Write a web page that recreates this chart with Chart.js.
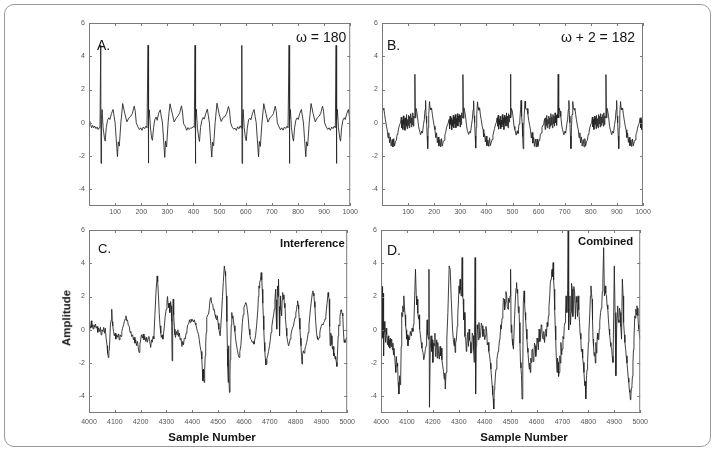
<!DOCTYPE html>
<html><head><meta charset="utf-8">
<script src="https://cdn.jsdelivr.net/npm/chart.js@4.4.1/dist/chart.umd.min.js"></script>
<style>
html,body{margin:0;padding:0;background:#fff;}
#wrap{position:relative;width:717px;height:452px;overflow:hidden;font-family:"Liberation Sans",Arial,sans-serif;}
#frame{position:absolute;left:4px;top:4px;width:707px;height:443px;border:1px solid #9a9a9a;border-radius:10px;box-sizing:border-box;}
canvas{position:absolute;}
.t{position:absolute;white-space:nowrap;line-height:1;color:#151515;}
.b{font-weight:bold;font-size:11.3px;}
</style></head><body><div id="wrap">
<div id="frame"></div>
<canvas id="cA"></canvas><canvas id="cB"></canvas><canvas id="cC"></canvas><canvas id="cD"></canvas>
<div class="t" style="left:97px;top:38px;font-size:14px">A.</div>
<div class="t" style="left:296px;top:30px;font-size:14px">ω = 180</div>
<div class="t" style="left:387px;top:38px;font-size:14px">B.</div>
<div class="t" style="left:561px;top:30px;font-size:14px">ω + 2 = 182</div>
<div class="t" style="left:98px;top:242px;font-size:13px">C.</div>
<div class="t b" style="left:280px;top:237.5px">Interference</div>
<div class="t" style="left:387px;top:243px;font-size:14px">D.</div>
<div class="t b" style="left:578px;top:235.5px">Combined</div>
<div class="t" style="left:67px;top:318px;font-size:11.5px;font-weight:bold;transform:translate(-50%,-50%) rotate(-90deg)">Amplitude</div>
<div class="t" style="left:212px;top:432px;font-size:11.5px;font-weight:bold;transform:translateX(-50%)">Sample Number</div>
<div class="t" style="left:524px;top:432px;font-size:11.5px;font-weight:bold;transform:translateX(-50%)">Sample Number</div>
</div>
<script>
// ---------- tick values ----------
const yTickVals = [-4, -2, 0, 2, 4, 6];
const xTicksTop = [100, 200, 300, 400, 500, 600, 700, 800, 900, 1000];
const xTicksBottom = [4000, 4100, 4200, 4300, 4400, 4500, 4600, 4700, 4800, 4900, 5000];

// ---------- panel A (omega = 180) ----------
const aX = [
0,3,6,10,14,18,22,27,31,35,39,42,
45,46,48,50,54,59,62,66,71,76,80,86,92,96,100,104,109,112,116,122,129,137,145,153,160,166,173,177,181,187,193,198,203,208,213,218,222,
226,227,229,231,235,240,243,247,252,257,261,267,273,277,281,285,290,293,297,303,310,318,326,334,341,347,354,358,362,368,374,379,384,389,394,399,403,
406,407,409,411,415,420,423,427,432,437,441,447,453,457,461,465,470,473,477,483,490,498,506,514,521,527,534,538,542,548,554,559,564,569,574,579,583,
585,586,588,590,594,599,602,606,611,616,620,626,632,636,640,644,649,652,656,662,669,677,685,693,700,706,713,717,721,727,733,738,743,748,753,758,762,
766,767,769,771,775,780,783,787,792,797,801,807,813,817,821,825,830,833,837,843,850,858,866,874,881,887,894,898,902,908,914,919,924,929,934,939,943,
946,947,949,951,955,960,963,967,972,977,981,987,993,997,1000];
const aY = [
0.05,0.1,-0.1,-0.3,-0.15,-0.3,-0.2,-0.35,-0.25,-0.4,-0.3,-0.25,
4.66,-2.44,0.2,0.8,-0.3,-0.9,-1.1,-0.3,0.16,0.3,0.2,0.56,0.8,0.4,0,-0.94,-2.04,-1.14,-1.4,0,1.16,0.56,0.06,0.3,0.4,0.56,1.0,0.7,0,-0.24,-0.4,-0.3,-0.45,-0.25,-0.35,-0.2,-0.3,
4.66,-2.42,0.25,0.78,-0.25,-0.95,-1.05,-0.3,0.2,0.35,0.15,0.6,0.78,0.35,0.05,-0.9,-2.08,-1.1,-1.45,0.05,1.14,0.6,0.05,0.28,0.42,0.6,1.02,0.65,-0.05,-0.2,-0.45,-0.28,-0.4,-0.3,-0.32,-0.22,-0.28,
4.66,-2.44,0.18,0.82,-0.32,-0.88,-1.12,-0.28,0.14,0.32,0.22,0.55,0.82,0.42,-0.02,-0.96,-2.06,-1.16,-1.38,0.02,1.18,0.54,0.08,0.32,0.38,0.58,0.98,0.72,0.02,-0.26,-0.38,-0.32,-0.46,-0.24,-0.36,-0.18,-0.32,
4.66,-2.44,0.22,0.8,-0.28,-0.92,-1.08,-0.32,0.18,0.28,0.18,0.58,0.8,0.38,0.02,-0.92,-2.05,-1.12,-1.42,-0.02,1.15,0.58,0.04,0.3,0.42,0.55,1.0,0.68,0,-0.22,-0.42,-0.3,-0.44,-0.26,-0.34,-0.2,-0.3,
4.66,-2.44,0.2,0.8,-0.3,-0.9,-1.1,-0.3,0.16,0.3,0.2,0.56,0.8,0.4,0,-0.94,-2.04,-1.14,-1.4,0,1.16,0.56,0.06,0.3,0.4,0.56,1.0,0.7,0,-0.24,-0.4,-0.3,-0.45,-0.25,-0.35,-0.2,-0.3,
4.66,-2.44,0.2,0.8,-0.3,-0.9,-1.1,-0.3,0.16,0.3,0.2,0.56,0.8,0.4,-0.85];

// ---------- panel B (omega + 2 = 182) ----------
const bX = [
0,2,4,7,10,13,17,20,23,26,29,32,35,39,42,45,48,52,55,58,61,64,68,71,
74,76,78,80,82,84,86,88,90,92,94,96,98,100,102,104,106,108,110,112,114,116,118,120,122,124,
126,128,130,133,136,140,143,148,152,155,159,162,165,167,169,171,173,175,177,179,182,184,187,190,193,196,200,203,206,209,212,215,218,222,225,228,231,235,238,241,244,247,251,254,
257,259,261,263,265,267,269,271,273,275,277,279,281,283,285,287,289,291,293,295,297,299,301,303,305,307,
310,312,314,317,320,324,327,332,336,339,343,346,349,351,353,355,357,359,361,363,366,368,371,374,377,380,384,387,390,393,396,399,402,406,409,412,415,419,422,425,428,431,435,438,
441,443,445,447,449,451,453,455,457,459,461,463,465,467,469,471,473,475,477,479,481,483,485,487,489,491,
492,494,496,499,502,506,509,514,518,521,525,528,531,533,535,537,539,541,543,545,548,550,553,556,559,562,566,569,572,575,578,581,584,588,591,594,597,601,604,607,610,613,617,620,
623,625,627,629,631,633,635,637,639,641,643,645,647,649,651,653,655,657,659,661,663,665,667,669,671,673,
675,677,679,682,685,689,692,697,701,704,708,711,714,716,718,720,722,724,726,728,731,733,736,739,742,745,749,752,755,758,761,764,767,771,774,777,780,784,787,790,793,796,800,803,
806,808,810,812,814,816,818,820,822,824,826,828,830,832,834,836,838,840,842,844,846,848,850,852,854,856,
858,860,862,865,868,872,875,880,884,887,891,894,897,899,901,903,905,907,909,911,914,916,919,922,925,928,932,935,938,941,944,947,950,954,957,960,963,967,970,973,976,979,983,986,
989,991,993,995,997,999,1000];
const bY = [
1.2,0.9,0.78,0.88,0.5,0.18,-0.2,-0.42,-0.9,-0.6,-1.2,-0.85,-1.4,-1.0,-1.45,-0.95,-1.4,-1.1,-1.05,-0.7,-0.6,-0.3,-0.1,0,
0.35,-0.3,0.15,-0.4,0.42,-0.1,0.25,-0.45,0.3,-0.2,0.5,-0.35,0.2,-0.15,0.45,-0.3,0.38,0.0,0.55,-0.25,0.3,-0.1,0.6,-0.2,0.4,0.3,
2.92,0.3,0.88,0.7,0.38,-0.2,-0.42,-0.72,-0.5,-0.62,-0.1,0.18,0.8,1.34,0.4,0,-0.8,-1.55,-0.3,0.5,1.28,0.9,0.78,0.88,0.5,0.18,-0.2,-0.42,-0.9,-0.6,-1.2,-0.85,-1.4,-1.0,-1.45,-0.95,-1.4,-1.1,-1.05,-0.7,-0.6,-0.3,-0.1,0,
0.2,-0.35,0.4,-0.1,0.3,-0.42,0.18,-0.2,0.45,-0.3,0.35,-0.05,0.5,-0.3,0.25,-0.15,0.55,-0.2,0.4,0.05,0.5,-0.25,0.45,-0.1,0.6,0.3,
2.9,0.28,0.9,0.68,0.4,-0.18,-0.45,-0.7,-0.52,-0.6,-0.12,0.2,0.78,1.32,0.42,0.02,-0.78,-1.52,-0.28,0.52,1.26,0.92,0.76,0.9,0.48,0.2,-0.22,-0.4,-0.85,-0.65,-1.15,-0.8,-1.38,-1.05,-1.42,-0.9,-1.38,-1.15,-1.0,-0.75,-0.55,-0.35,-0.08,0.02,
0.3,-0.2,0.45,-0.38,0.2,-0.1,0.4,-0.35,0.15,-0.25,0.5,-0.1,0.3,-0.4,0.45,0.0,0.35,-0.2,0.6,-0.15,0.4,-0.3,0.55,0.05,0.45,0.3,
2.92,0.3,0.86,0.72,0.36,-0.22,-0.4,-0.74,-0.48,-0.64,-0.08,0.16,0.82,1.35,0.38,-0.02,-0.82,-1.56,-0.32,0.48,1.3,0.88,0.8,0.86,0.52,0.16,-0.18,-0.44,-0.92,-0.58,-1.22,-0.88,-1.42,-0.98,-1.46,-0.97,-1.42,-1.08,-1.07,-0.68,-0.62,-0.28,-0.12,-0.02,
0.25,-0.4,0.3,-0.15,0.45,-0.3,0.2,-0.05,0.4,-0.35,0.3,-0.2,0.55,-0.1,0.35,-0.3,0.5,-0.05,0.4,-0.2,0.6,0.0,0.45,-0.15,0.5,0.3,
2.92,0.3,0.88,0.7,0.38,-0.2,-0.42,-0.72,-0.5,-0.62,-0.1,0.18,0.8,1.34,0.4,0,-0.8,-1.55,-0.3,0.5,1.28,0.9,0.78,0.88,0.5,0.18,-0.2,-0.42,-0.9,-0.6,-1.2,-0.85,-1.4,-1.0,-1.45,-0.95,-1.4,-1.1,-1.05,-0.7,-0.6,-0.3,-0.1,0,
0.35,-0.25,0.2,-0.4,0.4,-0.1,0.3,-0.35,0.45,-0.2,0.25,-0.3,0.5,-0.05,0.4,-0.25,0.55,-0.15,0.35,0.0,0.5,-0.2,0.6,-0.1,0.4,0.3,
2.9,0.3,0.88,0.7,0.38,-0.2,-0.42,-0.72,-0.5,-0.62,-0.1,0.18,0.8,1.34,0.4,0,-0.8,-1.55,-0.3,0.5,1.28,0.9,0.78,0.88,0.5,0.18,-0.2,-0.42,-0.88,-0.62,-1.18,-0.87,-1.38,-1.02,-1.43,-0.97,-1.38,-1.12,-1.03,-0.72,-0.58,-0.32,-0.1,0,
0.3,-0.3,0.2,-0.4,0.35,-0.2,-0.05];

// ---------- panel C (interference) ----------
const cX = [
4000,4003,4006,4009,4011,4013,4016,4019,4022,4025,
4028,4031,4034,4037,4041,4044,4047,4050,4054,4057,
4060,4063,4066,4070,4072,4075,4077,4079,4083,4086,
4088,4090,4092,4095,4098,4101,4104,4107,4111,4114,
4117,4120,4124,4127,4130,4134,4137,4140,4143,4146,
4149,4152,4156,4159,4162,4165,4169,4172,4175,4178,
4181,4184,4188,4191,4194,4197,4200,4203,4207,4210,
4213,4216,4220,4223,4226,4229,4232,4235,4239,4242,
4245,4248,4251,4255,4260,4264,4266,4269,4272,4275,
4278,4280,4283,4286,4289,4292,4295,4299,4302,4304,
4306,4309,4311,4313,4316,4318,4320,4322,4324,4326,
4328,4331,4333,4335,4338,4341,4344,4347,4350,4353,
4356,4360,4363,4366,4369,4373,4376,4379,4382,4386,
4389,4392,4395,4398,4401,4405,4408,4411,4414,4417,
4420,4424,4427,4430,4434,4437,4439,4441,4443,4444,
4446,4448,4450,4452,4454,4456,4460,4463,4466,4469,
4472,4475,4479,4482,4485,4488,4491,4494,4497,4500,
4503,4508,4513,4517,4520,4524,4527,4529,4532,4534,
4536,4537,4539,4540,4541,4542,4544,4546,4547,4549,
4551,4553,4555,4557,4562,4565,4568,4571,4575,4578,
4581,4584,4588,4591,4594,4597,4600,4604,4607,4610,
4613,4616,4620,4623,4626,4629,4632,4636,4639,4642,
4645,4649,4654,4656,4658,4660,4661,4664,4667,4669,
4671,4673,4675,4677,4679,4681,4683,4685,4687,4689,
4692,4695,4699,4702,4705,4708,4712,4715,4718,4720,
4723,4725,4726,4728,4730,4732,4734,4736,4738,4740,
4741,4743,4746,4748,4750,4753,4755,4757,4759,4761,
4764,4766,4769,4773,4776,4779,4782,4785,4788,4792,
4795,4798,4801,4804,4806,4808,4810,4812,4814,4817,
4819,4821,4823,4825,4827,4830,4833,4836,4839,4843,
4846,4849,4852,4855,4858,4862,4865,4867,4869,4871,
4873,4875,4878,4881,4883,4885,4888,4891,4894,4896,
4899,4903,4906,4909,4912,4914,4917,4919,4922,4926,
4928,4930,4932,4934,4936,4939,4941,4943,4945,4948,
4950,4953,4955,4958,4960,4962,4965,4967,4970,4972,
4974,4976,4978,4980,4983,4985,4988,4990,4993,4996,
5000];
const cY = [
0.0,0.25,0.1,0.54,0.15,0.3,0.05,0.3,0.15,0.35,
0.1,0.2,-0.15,0.1,-0.1,0.15,-0.3,0.0,-0.1,0.15,
-0.2,0.1,-0.46,-0.96,-1.4,-1.66,-1.3,-1.16,0.34,0.6,
1.24,0.5,0.24,-0.1,-0.36,-0.2,-0.56,-0.3,-0.45,-0.25,
-0.6,-0.3,-0.4,-0.1,0.1,0.3,0.5,0.65,0.84,0.55,
0.6,0.3,0.2,-0.15,-0.1,-0.4,-0.3,-0.6,-0.45,-0.8,
-0.6,-0.95,-0.7,-1.1,-1.36,-0.9,-0.6,-0.3,-0.5,-0.25,
-0.6,-0.4,-0.7,-0.45,-0.75,-0.5,-0.4,-0.7,-1.06,-0.6,
-0.75,-0.4,-0.55,0.84,2.44,3.24,2.9,2.04,1.0,0.24,
-0.2,-0.46,-0.3,-0.56,-0.2,0.24,0.8,1.24,1.7,2.0,
1.6,1.34,1.6,1.04,1.7,1.44,0.5,-1.86,0.2,1.84,
0.9,0.04,-0.3,-0.46,-0.1,-0.3,0.0,-0.4,-0.2,-0.6,
-0.5,-1.0,-0.7,-0.9,-0.5,-0.55,-0.2,-0.05,0.3,0.35,
0.6,0.45,0.65,0.5,0.62,0.48,0.6,0.4,0.3,0.1,
-0.1,-0.26,-0.6,-0.96,-1.3,-1.76,-2.4,-3.06,-2.36,-2.9,
-3.16,-2.4,-1.56,-0.8,-0.16,0.74,0.9,0.94,1.3,1.84,
1.94,1.6,1.54,1.2,1.24,0.9,0.74,0.6,0.84,0.4,
0.04,-0.36,0.84,2.0,2.84,3.84,3.5,3.24,2.04,0.5,
-1.16,-2.2,-3.16,-1.5,-0.96,-2.5,-3.76,-2.76,-1.8,-0.76,
0.3,1.04,0.7,0.84,0.24,-0.1,-0.56,-0.9,-1.26,-1.5,
-1.66,-1.3,-0.96,-0.3,0.44,0.9,1.34,1.5,1.64,1.54,
1.2,0.84,0.04,-0.3,-0.56,-0.6,-0.76,-0.7,-0.86,-0.6,
-0.36,0.24,1.24,2.0,2.64,2.5,2.84,3.0,3.44,3.0,
2.44,1.6,0.84,0.0,-0.76,-1.3,-1.76,-2.1,-2.06,-1.7,
-1.56,-1.3,-0.96,-0.6,-0.16,0.2,0.64,0.9,1.24,1.8,
2.44,0.84,1.8,0.04,2.64,2.0,3.04,1.4,-0.36,1.2,
2.04,1.5,0.84,1.8,2.24,1.84,2.1,1.34,1.6,0.64,
0.1,-0.36,-0.7,-0.96,-0.8,-0.56,-0.3,-0.06,0.1,0.24,
0.5,0.74,1.0,1.24,1.5,1.74,1.5,1.24,0.7,0.04,
-0.5,-0.96,-1.6,-2.06,-1.5,-1.26,-1.4,-1.16,-1.0,-0.76,
-0.5,-0.16,0.3,0.84,1.3,1.84,2.2,2.34,2.2,2.04,
1.7,1.34,0.5,-0.16,-0.4,-0.56,-0.6,-0.46,-0.2,0.04,
0.2,0.34,0.3,0.44,0.5,0.64,0.8,1.14,1.6,2.24,
2.0,1.84,0.2,-0.96,-0.2,-0.36,-0.9,-1.16,-1.0,-1.56,
-1.4,-1.76,-1.6,-1.96,-2.2,-1.56,-0.36,0.3,0.24,0.8,
1.04,1.2,1.14,1.0,0.84,0.0,-0.76,-0.6,-0.76,-0.5,
-0.46];

// ---------- panel D (combined) ----------
const dX = [
4000,4002,4004,4006,4008,4010,4012,4015,4018,4020,
4022,4025,4028,4030,4032,4034,4036,4039,4041,4044,
4046,4048,4050,4053,4055,4057,4059,4062,4064,4066,
4069,4072,4074,4076,4078,4080,4082,4084,4086,4088,
4091,4093,4095,4097,4099,4102,4104,4107,4110,4113,
4117,4120,4123,4125,4127,4130,4133,4136,4138,4140,
4142,4145,4147,4149,4152,4155,4158,4162,4165,4168,
4171,4174,4176,4178,4180,4183,4185,4187,4190,4193,
4196,4198,4200,4203,4206,4208,4210,4212,4215,4217,
4219,4222,4225,4228,4230,4232,4235,4238,4241,4244,
4246,4248,4251,4254,4258,4263,4267,4271,4276,4279,
4282,4284,4286,4288,4291,4294,4296,4299,4301,4303,
4305,4307,4309,4311,4313,4315,4317,4319,4322,4324,
4327,4329,4331,4333,4335,4337,4340,4342,4345,4347,
4350,4352,4355,4357,4360,4363,4365,4367,4369,4371,
4373,4375,4378,4381,4384,4387,4390,4393,4397,4400,
4403,4405,4408,4410,4413,4416,4419,4422,4424,4427,
4429,4431,4433,4435,4437,4439,4442,4444,4447,4449,
4452,4454,4457,4459,4462,4464,4467,4470,4472,4475,
4477,4480,4482,4485,4487,4490,4492,4495,4498,4500,
4502,4504,4506,4508,4511,4515,4519,4521,4523,4525,
4527,4530,4532,4534,4536,4538,4540,4542,4544,4547,
4549,4552,4554,4556,4558,4560,4563,4565,4567,4570,
4572,4574,4576,4578,4580,4582,4585,4587,4590,4592,
4595,4597,4600,4602,4605,4607,4610,4613,4616,4618,
4620,4623,4626,4628,4631,4633,4636,4638,4641,4643,
4646,4648,4651,4653,4656,4658,4660,4662,4664,4666,
4668,4670,4672,4674,4676,4679,4681,4683,4685,4687,
4690,4692,4694,4697,4699,4702,4705,4707,4710,4712,
4714,4717,4720,4722,4724,4726,4729,4731,4733,4735,
4738,4740,4742,4744,4747,4750,4753,4756,4758,4761,
4763,4766,4768,4771,4773,4776,4778,4780,4783,4786,
4788,4790,4793,4795,4797,4800,4802,4805,4808,4810,
4812,4814,4816,4818,4820,4822,4825,4827,4829,4831,
4833,4835,4837,4840,4842,4844,4847,4850,4852,4854,
4856,4859,4862,4865,4867,4870,4872,4875,4877,4880,
4882,4885,4887,4890,4892,4895,4897,4900,4903,4906,
4909,4911,4913,4915,4918,4920,4923,4925,4928,4931,
4934,4935,4937,4939,4941,4944,4946,4949,4951,4954,
4956,4958,4960,4962,4964,4966,4968,4970,4972,4974,
4976,4979,4981,4983,4985,4987,4989,4991,4993,4995,
4997,5000];
const dY = [
4.34,1.5,2.6,-0.5,2.2,-1.56,0.5,-0.16,-0.76,0.1,
-0.3,-0.9,-0.36,-1.0,-0.6,-1.1,-0.5,-1.0,-0.56,-1.2,
-0.8,-1.5,-1.1,-1.66,-2.1,-2.56,-1.6,-2.2,-2.0,-3.16,
-3.86,-2.76,-3.3,-2.9,-1.0,1.04,0.8,1.44,1.1,2.04,
1.24,0.9,0.24,0.0,-0.56,-0.3,-0.96,-0.4,-0.6,-0.1,
-0.36,0.1,-0.1,0.3,0.44,2.04,3.64,2.04,1.5,1.84,
1.0,0.64,0.9,0.04,-0.3,-0.76,-1.1,-1.36,-1.8,-1.56,
-1.2,-0.96,-0.2,0.6,-0.3,-0.56,3.64,-4.66,-1.16,-0.36,
-1.3,-0.6,-1.96,-0.8,-0.96,-0.2,-1.6,-1.2,-0.6,-1.7,
-0.76,-1.4,-1.76,-1.0,-1.56,-1.1,-1.8,-2.16,-2.5,-2.96,
-2.6,-3.56,-2.56,-0.56,1.04,3.84,3.64,1.84,0.04,-0.6,
-0.96,-0.5,-1.36,-0.8,-0.56,0.2,0.84,1.8,2.64,2.2,
3.04,2.4,2.04,2.6,4.34,2.0,1.84,0.6,1.04,-0.4,
-0.56,-1.3,-0.96,-0.3,-0.16,-1.0,0.04,-0.6,-0.76,-1.4,
-1.36,-0.2,-0.36,-1.2,-1.96,4.34,-3.86,-1.0,-0.96,0.3,
0.04,-0.6,0.44,-0.5,-0.36,0.4,0.24,-0.4,0.04,-0.6,
-0.36,0.2,-0.16,-0.9,-0.76,-1.3,-1.56,-2.0,-2.36,-3.0,
-3.36,-3.9,-4.16,-4.76,-3.6,-3.36,-2.6,-2.36,-1.8,-1.56,
-1.3,-1.16,-0.6,-0.56,0.3,0.04,0.7,1.04,1.9,1.84,
1.2,1.64,2.3,2.04,1.4,1.24,1.9,1.64,2.04,3.64,
-0.16,0.3,-0.56,-0.9,-1.16,0.64,2.04,2.5,2.84,2.2,
2.44,1.04,1.4,0.44,-0.8,-1.96,-2.3,-2.76,-4.16,-2.36,
1.64,2.34,1.6,1.04,0.6,0.04,-0.56,-1.1,-1.36,-2.0,
-2.36,-2.0,-2.56,-1.7,-1.96,-1.2,-1.16,-1.9,-1.56,-0.8,
-0.96,-1.6,-1.16,-0.5,-0.76,-1.2,0.04,-0.7,-0.36,0.3,
0.24,-0.5,-0.56,-0.1,-0.76,-0.3,0.04,-0.4,0.44,0.2,
0.84,1.4,2.04,2.8,3.04,3.5,3.64,3.2,4.04,3.0,
2.44,1.2,0.24,-0.6,-1.56,-2.56,-1.7,-1.96,-2.8,-2.56,
-1.56,-2.0,-0.76,-1.5,-1.16,-0.4,-0.56,0.2,0.44,1.2,
2.04,1.04,2.44,5.94,0.0,1.2,2.04,0.3,1.04,2.8,
2.44,0.8,1.64,2.6,2.24,0.64,2.0,1.64,0.8,2.04,
1.2,0.44,-0.2,-0.56,-1.3,-1.16,-1.7,-1.96,-2.56,-3.36,
-3.1,-4.16,-2.76,-2.4,-1.96,-0.76,-0.2,0.84,2.04,2.64,
2.2,1.84,0.6,-0.56,-1.0,-1.56,-1.36,-2.0,-0.76,-1.4,
-0.96,-0.2,-0.56,-0.6,0.04,0.5,1.04,1.3,1.64,2.3,
3.04,4.94,2.04,2.64,2.2,2.04,1.5,1.24,0.7,0.04,
-0.3,-0.76,-1.0,-1.16,-1.6,-1.96,0.04,3.84,1.04,-2.76,
0.04,0.8,1.44,0.6,0.44,1.3,1.04,0.2,-0.56,3.04,
2.04,0.6,0.44,-0.3,-0.76,-1.2,-1.56,-2.0,-2.36,-2.9,
-3.16,-3.6,-3.76,-4.2,-3.96,-3.5,-3.36,-2.8,-1.96,-1.2,
-0.56,0.84,0.7,1.24,0.9,1.44,1.3,0.84,0.3,0.04,
-0.3,-0.56];

// ---------- drawing ----------
Chart.defaults.font.family = "'Liberation Sans', Arial, sans-serif";

const framePlugin = {
  id: 'framePlugin',
  afterDatasetsDraw(chart, args, opts) {
    const {ctx, chartArea: ca, scales: {x, y}} = chart;
    ctx.save();
    ctx.strokeStyle = '#7a7a7a';
    ctx.lineWidth = 1;
    ctx.strokeRect(ca.left + 0.5, ca.top + 0.5, ca.right - ca.left - 1, ca.bottom - ca.top - 1);
    ctx.beginPath();
    opts.xt.forEach(v => {
      const p = Math.round(x.getPixelForValue(v)) + 0.5;
      ctx.moveTo(p, ca.bottom); ctx.lineTo(p, ca.bottom - 3);
      ctx.moveTo(p, ca.top); ctx.lineTo(p, ca.top + 3);
    });
    yTickVals.forEach(v => {
      const p = Math.round(y.getPixelForValue(v)) + 0.5;
      ctx.moveTo(ca.left, p); ctx.lineTo(ca.left + 3, p);
      ctx.moveTo(ca.right, p); ctx.lineTo(ca.right - 3, p);
    });
    ctx.stroke();
    ctx.restore();
  }
};

function panel(id, rect, area, xs, ys, xMin, xMax, xt, xPad) {
  const cv = document.getElementById(id);
  cv.width = rect.w; cv.height = rect.h;
  cv.style.left = rect.x + 'px'; cv.style.top = rect.y + 'px';
  cv.style.width = rect.w + 'px'; cv.style.height = rect.h + 'px';
  const yW = area.l - rect.x, xH = rect.y + rect.h - area.b;
  const pts = xs.map((v, i) => ({x: v, y: ys[i]})).filter(p => p.y !== undefined);
  new Chart(cv, {
    type: 'line',
    data: {datasets: [{data: pts, borderColor: 'rgba(38,38,38,0.88)', borderWidth: 1, pointRadius: 0, tension: 0, fill: false}]},
    options: {
      responsive: false, animation: false, devicePixelRatio: 1,
      layout: {autoPadding: false, padding: {left: 0, top: area.t - rect.y, right: rect.x + rect.w - area.r, bottom: 0}},
      plugins: {legend: {display: false}, tooltip: {enabled: false}, framePlugin: {xt: xt}},
      scales: {
        x: {type: 'linear', min: xMin, max: xMax,
            grid: {display: false, drawTicks: false}, border: {display: false},
            afterBuildTicks: s => { s.ticks = xt.map(v => ({value: v})); },
            afterFit: s => { s.height = xH; },
            ticks: {padding: xPad, autoSkip: false, maxRotation: 0, minRotation: 0, color: '#555', font: {size: 7}, callback: v => String(v)}},
        y: {type: 'linear', min: -5, max: 6,
            grid: {display: false, drawTicks: false}, border: {display: false},
            afterBuildTicks: s => { s.ticks = yTickVals.map(v => ({value: v})); },
            afterFit: s => { s.width = yW; },
            ticks: {padding: 4, color: '#555', font: {size: 7}, callback: v => String(v)}}
      }
    },
    plugins: [framePlugin]
  });
}

panel('cA', {x: 55, y: 13, w: 305, h: 210}, {l: 89, t: 23, r: 351, b: 206}, aX, aY, 0, 1000, xTicksTop, 2);
panel('cB', {x: 348, y: 13, w: 305, h: 210}, {l: 382, t: 23, r: 643, b: 206}, bX, bY, 0, 1000, xTicksTop, 2);
panel('cC', {x: 55, y: 220, w: 305, h: 210}, {l: 89, t: 230, r: 351, b: 413}, cX, cY, 4000, 5000, xTicksBottom, 5);
panel('cD', {x: 348, y: 220, w: 305, h: 210}, {l: 381, t: 230, r: 643, b: 413}, dX, dY, 4000, 5000, xTicksBottom, 5);
</script>
</body></html>
